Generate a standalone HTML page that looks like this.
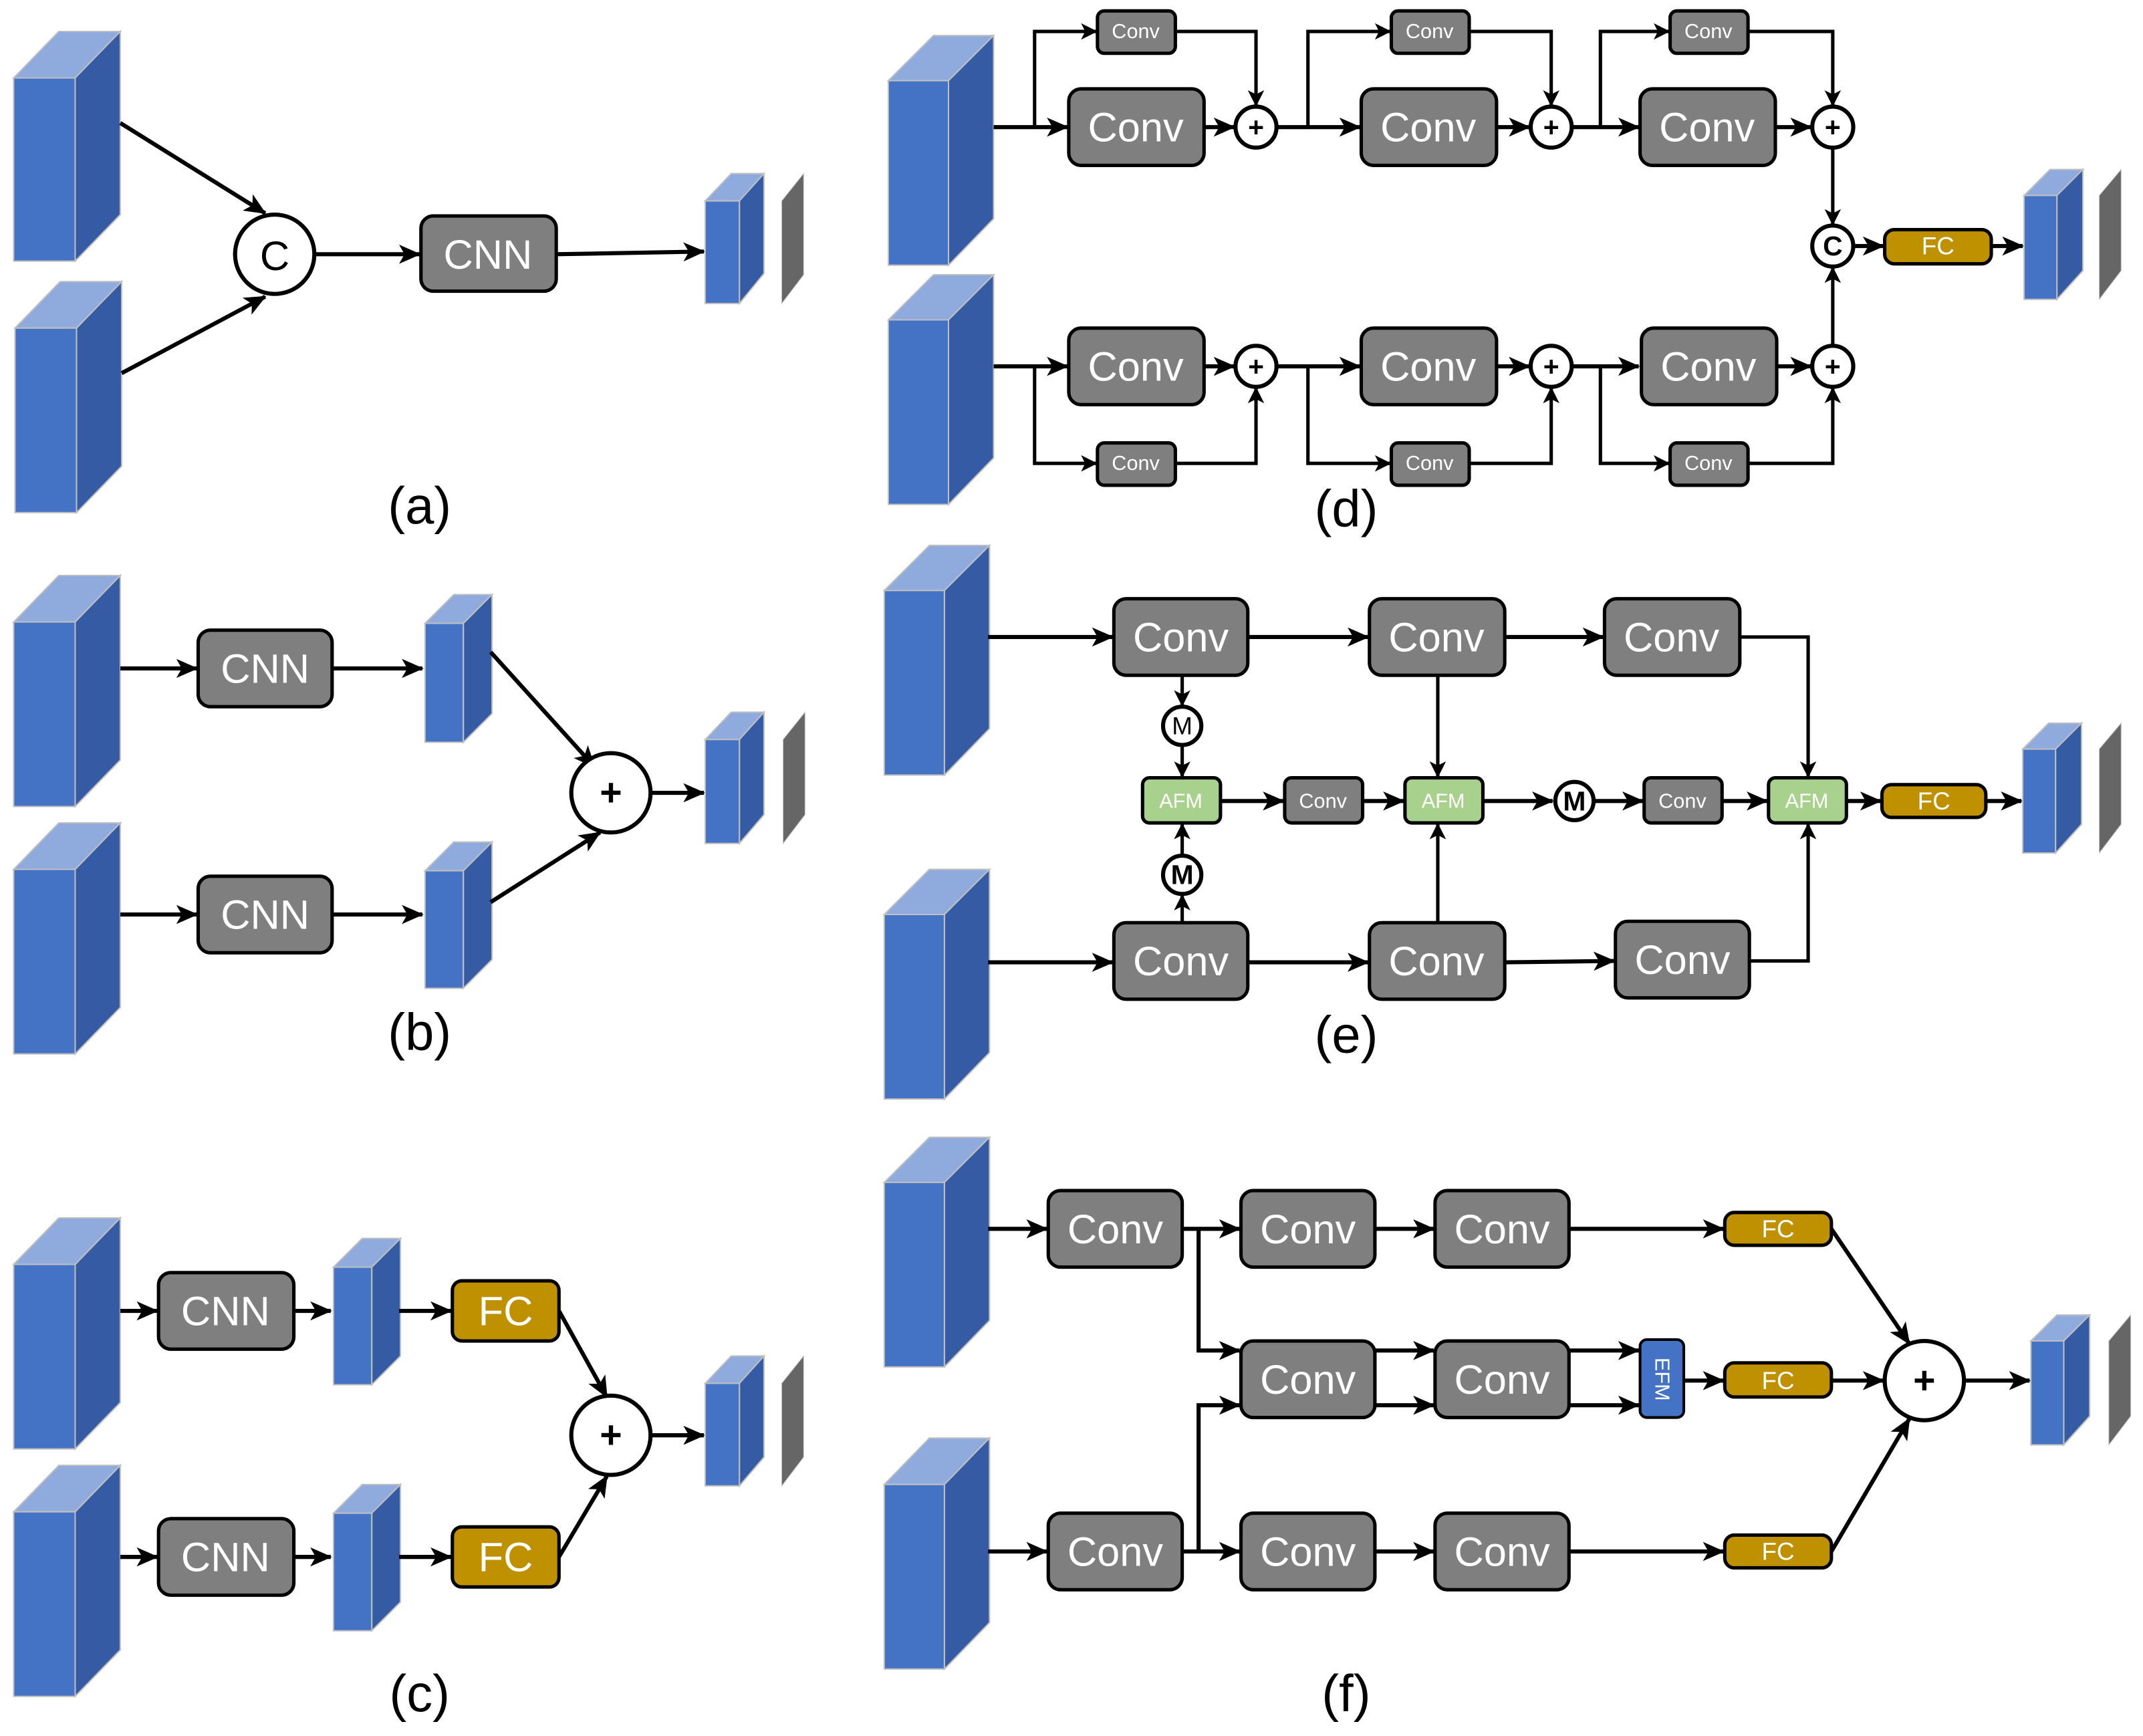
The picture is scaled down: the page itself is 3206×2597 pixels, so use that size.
<!DOCTYPE html>
<html><head><meta charset="utf-8"><style>
html,body{margin:0;padding:0;background:#fff;}
svg{display:block;}
text{font-family:"Liberation Sans",sans-serif;}
</style></head><body>
<svg width="3206" height="2597" viewBox="0 0 1568 1270" preserveAspectRatio="none" xmlns="http://www.w3.org/2000/svg">
<defs>
<marker id="ar" markerUnits="userSpaceOnUse" markerWidth="16" markerHeight="14" refX="15" refY="7" orient="auto">
<path d="M0,0 L16,7 L0,14 L4,7 Z" fill="#000"/></marker>
<marker id="as" markerUnits="userSpaceOnUse" markerWidth="12" markerHeight="12" refX="11" refY="6" orient="auto">
<path d="M0,0 L12,6 L0,12 L3,6 Z" fill="#000"/></marker>
</defs>
<style>
.f{fill:#4472C4;stroke:#bfbfbf;stroke-width:1}
.t{fill:#8FAADC;stroke:#bfbfbf;stroke-width:1}
.s{fill:#345BA3;stroke:#bfbfbf;stroke-width:1}
.sl{fill:#666;stroke:#bfbfbf;stroke-width:0.5}
.b{fill:#7f7f7f;stroke:#000;stroke-width:2.5}
.fc{fill:#BF9000;stroke:#000;stroke-width:2.5}
.afm{fill:#A9D18E;stroke:#000;stroke-width:2.5}
.ci{fill:#fff;stroke:#000;stroke-width:3}
.l{stroke:#000;stroke-width:3;fill:none}
.la{stroke:#000;stroke-width:3;fill:none;marker-end:url(#ar)}
.ls{stroke:#000;stroke-width:2.5;fill:none;marker-end:url(#as)}
.bt{fill:#fff;font-size:30px;text-anchor:middle;dominant-baseline:central}
.st{fill:#fff;font-size:15px;text-anchor:middle;dominant-baseline:central}
.lb{fill:#000;font-size:38px;text-anchor:middle}
.pt{fill:#000;font-size:28px;font-weight:bold;text-anchor:middle;dominant-baseline:central}
.ps{fill:#000;font-size:20px;font-weight:bold;text-anchor:middle;dominant-baseline:central}
</style>

<!-- ===== (a) ===== -->
<g>
<polygon class="t" points="10,57 43,23 88,23 55,57"/><polygon class="s" points="55,57 88,23 88,157 55,191"/><rect class="f" x="10" y="57" width="45" height="134"/>
<polygon class="t" points="11,240 44,206 89,206 56,240"/><polygon class="s" points="56,240 89,206 89,341 56,375"/><rect class="f" x="11" y="240" width="45" height="135"/>
<line class="la" x1="88" y1="90" x2="194" y2="156"/>
<line class="la" x1="89" y1="273" x2="194" y2="217"/>
<circle class="ci" cx="201" cy="186" r="29"/><text class="pt" x="201" y="187" style="font-weight:normal;font-size:30px">C</text>
<line class="la" x1="230" y1="186" x2="307" y2="186"/>
<rect class="b" x="308" y="158" width="99" height="55" rx="9"/><text class="bt" x="357" y="186">CNN</text>
<line class="la" x1="407" y1="186" x2="515" y2="184"/>
<polygon class="t" points="516,147 535,127 559,127 541,147"/><polygon class="s" points="541,147 559,127 559,200 541,222"/><rect class="f" x="516" y="147" width="25" height="75"/>
<polygon class="sl" points="572,147 588,127 588,201 572,222"/>
<text class="lb" x="307" y="383">(a)</text>
</g>

<!-- ===== (b) ===== -->
<g>
<polygon class="t" points="10,455 43,421 88,421 55,455"/><polygon class="s" points="55,455 88,421 88,556 55,590"/><rect class="f" x="10" y="455" width="45" height="135"/>
<polygon class="t" points="10,636 43,602 88,602 55,636"/><polygon class="s" points="55,636 88,602 88,737 55,771"/><rect class="f" x="10" y="636" width="45" height="135"/>
<line class="la" x1="88" y1="489" x2="144" y2="489"/>
<rect class="b" x="145" y="461" width="98" height="56" rx="9"/><text class="bt" x="194" y="489">CNN</text>
<line class="la" x1="243" y1="489" x2="309" y2="489"/>
<polygon class="t" points="311,456 332,435 360,435 339,456"/><polygon class="s" points="339,456 360,435 360,522 339,543"/><rect class="f" x="311" y="456" width="28" height="87"/>
<line class="la" x1="88" y1="669" x2="144" y2="669"/>
<rect class="b" x="145" y="641" width="98" height="56" rx="9"/><text class="bt" x="194" y="669">CNN</text>
<line class="la" x1="243" y1="669" x2="309" y2="669"/>
<polygon class="t" points="311,637 332,616 360,616 339,637"/><polygon class="s" points="339,637 360,616 360,702 339,723"/><rect class="f" x="311" y="637" width="28" height="86"/>
<line class="la" x1="359" y1="477" x2="435" y2="561"/>
<line class="la" x1="359" y1="660" x2="439" y2="609"/>
<circle class="ci" cx="447" cy="580" r="29"/><text class="pt" x="447" y="580">+</text>
<line class="la" x1="476" y1="580" x2="515" y2="580"/>
<polygon class="t" points="516,541 535,521 559,521 541,541"/><polygon class="s" points="541,541 559,521 559,596 541,617"/><rect class="f" x="516" y="541" width="25" height="76"/>
<polygon class="sl" points="573,541 589,521 589,596 573,617"/>
<text class="lb" x="307" y="768">(b)</text>
</g>

<!-- ===== (c) ===== -->
<g>
<polygon class="t" points="10,925 43,891 88,891 55,925"/><polygon class="s" points="55,925 88,891 88,1026 55,1060"/><rect class="f" x="10" y="925" width="45" height="135"/>
<polygon class="t" points="10,1106 43,1072 88,1072 55,1106"/><polygon class="s" points="55,1106 88,1072 88,1207 55,1241"/><rect class="f" x="10" y="1106" width="45" height="135"/>
<line class="la" x1="88" y1="959" x2="115" y2="959"/>
<rect class="b" x="116" y="931" width="99" height="56" rx="9"/><text class="bt" x="165" y="959">CNN</text>
<line class="la" x1="215" y1="959" x2="242" y2="959"/>
<polygon class="t" points="244,927 265,906 293,906 272,927"/><polygon class="s" points="272,927 293,906 293,992 272,1013"/><rect class="f" x="244" y="927" width="28" height="86"/>
<line class="la" x1="292" y1="959" x2="330" y2="959"/>
<rect class="fc" x="331" y="937" width="78" height="44" rx="7"/><text class="bt" x="370" y="959">FC</text>
<line class="la" x1="88" y1="1139" x2="115" y2="1139"/>
<rect class="b" x="116" y="1111" width="99" height="56" rx="9"/><text class="bt" x="165" y="1139">CNN</text>
<line class="la" x1="215" y1="1139" x2="242" y2="1139"/>
<polygon class="t" points="244,1107 265,1086 293,1086 272,1107"/><polygon class="s" points="272,1107 293,1086 293,1172 272,1193"/><rect class="f" x="244" y="1107" width="28" height="86"/>
<line class="la" x1="292" y1="1139" x2="330" y2="1139"/>
<rect class="fc" x="331" y="1117" width="78" height="44" rx="7"/><text class="bt" x="370" y="1139">FC</text>
<line class="la" x1="409" y1="959" x2="444" y2="1022"/>
<line class="la" x1="409" y1="1139" x2="444" y2="1080"/>
<circle class="ci" cx="447" cy="1050" r="29"/><text class="pt" x="447" y="1050">+</text>
<line class="la" x1="476" y1="1050" x2="515" y2="1050"/>
<polygon class="t" points="516,1012 535,992 559,992 541,1012"/><polygon class="s" points="541,1012 559,992 559,1066 541,1087"/><rect class="f" x="516" y="1012" width="25" height="75"/>
<polygon class="sl" points="572,1012 588,992 588,1066 572,1087"/>
<text class="lb" x="307" y="1252">(c)</text>
</g>

<!-- ===== (d) ===== -->
<g>
<polygon class="t" points="650,59 683,26 727,26 694,59"/><polygon class="s" points="694,59 727,26 727,160 694,194"/><rect class="f" x="650" y="59" width="44" height="135"/>
<polygon class="t" points="650,234 683,201 727,201 694,234"/><polygon class="s" points="694,234 727,201 727,335 694,369"/><rect class="f" x="650" y="234" width="44" height="135"/>
<!-- top row -->
<line class="la" x1="727" y1="93" x2="781" y2="93"/>
<rect class="b" x="782" y="65" width="99" height="56" rx="9"/><text class="bt" x="831" y="93">Conv</text>
<line class="la" x1="881" y1="93" x2="903" y2="93"/>
<circle class="ci" cx="919" cy="93" r="15"/><text class="ps" x="919" y="93">+</text>
<line class="la" x1="934" y1="93" x2="995" y2="93"/>
<rect class="b" x="996" y="65" width="99" height="56" rx="9"/><text class="bt" x="1045" y="93">Conv</text>
<line class="la" x1="1095" y1="93" x2="1119" y2="93"/>
<circle class="ci" cx="1135" cy="93" r="15"/><text class="ps" x="1135" y="93">+</text>
<line class="la" x1="1150" y1="93" x2="1199" y2="93"/>
<rect class="b" x="1200" y="65" width="99" height="56" rx="9"/><text class="bt" x="1249" y="93">Conv</text>
<line class="la" x1="1299" y1="93" x2="1325" y2="93"/>
<circle class="ci" cx="1341" cy="93" r="15"/><text class="ps" x="1341" y="93">+</text>
<polyline class="ls" points="757,93 757,23 802,23"/>
<rect class="b" x="803" y="8" width="57" height="31" rx="5"/><text class="st" x="831" y="23">Conv</text>
<polyline class="ls" points="860,23 919,23 919,77"/>
<polyline class="ls" points="957,93 957,23 1017,23"/>
<rect class="b" x="1018" y="8" width="57" height="31" rx="5"/><text class="st" x="1046" y="23">Conv</text>
<polyline class="ls" points="1075,23 1135,23 1135,77"/>
<polyline class="ls" points="1171,93 1171,23 1221,23"/>
<rect class="b" x="1222" y="8" width="57" height="31" rx="5"/><text class="st" x="1250" y="23">Conv</text>
<polyline class="ls" points="1279,23 1341,23 1341,77"/>
<!-- bottom row -->
<line class="la" x1="727" y1="268" x2="781" y2="268"/>
<rect class="b" x="782" y="240" width="99" height="56" rx="9"/><text class="bt" x="831" y="268">Conv</text>
<line class="la" x1="881" y1="268" x2="903" y2="268"/>
<circle class="ci" cx="919" cy="268" r="15"/><text class="ps" x="919" y="268">+</text>
<line class="la" x1="934" y1="268" x2="995" y2="268"/>
<rect class="b" x="996" y="240" width="99" height="56" rx="9"/><text class="bt" x="1045" y="268">Conv</text>
<line class="la" x1="1095" y1="268" x2="1119" y2="268"/>
<circle class="ci" cx="1135" cy="268" r="15"/><text class="ps" x="1135" y="268">+</text>
<line class="la" x1="1150" y1="268" x2="1199" y2="268"/>
<rect class="b" x="1201" y="240" width="99" height="56" rx="9"/><text class="bt" x="1250" y="268">Conv</text>
<line class="la" x1="1300" y1="268" x2="1325" y2="268"/>
<circle class="ci" cx="1341" cy="268" r="15"/><text class="ps" x="1341" y="268">+</text>
<polyline class="ls" points="757,268 757,339 802,339"/>
<rect class="b" x="803" y="324" width="57" height="31" rx="5"/><text class="st" x="831" y="339">Conv</text>
<polyline class="ls" points="860,339 919,339 919,284"/>
<polyline class="ls" points="957,268 957,339 1017,339"/>
<rect class="b" x="1018" y="324" width="57" height="31" rx="5"/><text class="st" x="1046" y="339">Conv</text>
<polyline class="ls" points="1075,339 1135,339 1135,284"/>
<polyline class="ls" points="1171,268 1171,339 1221,339"/>
<rect class="b" x="1222" y="324" width="57" height="31" rx="5"/><text class="st" x="1250" y="339">Conv</text>
<polyline class="ls" points="1279,339 1341,339 1341,284"/>
<line class="ls" x1="1341" y1="108" x2="1341" y2="164"/>
<line class="ls" x1="1341" y1="253" x2="1341" y2="196"/>
<circle class="ci" cx="1341" cy="180" r="15"/><text class="ps" x="1341" y="180">C</text>
<line class="la" x1="1356" y1="180" x2="1378" y2="180"/>
<rect class="fc" x="1379" y="168" width="78" height="25" rx="7"/><text class="st" x="1418" y="180" style="font-size:18px">FC</text>
<line class="la" x1="1457" y1="180" x2="1480" y2="180"/>
<polygon class="t" points="1481,143 1500,124 1524,124 1505,143"/><polygon class="s" points="1505,143 1524,124 1524,198 1505,219"/><rect class="f" x="1481" y="143" width="24" height="76"/>
<polygon class="sl" points="1536,143 1552,124 1552,198 1536,219"/>
<text class="lb" x="985" y="385">(d)</text>
</g>

<!-- ===== (e) ===== -->
<g>
<polygon class="t" points="647,432 680,399 724,399 691,432"/><polygon class="s" points="691,432 724,399 724,533 691,567"/><rect class="f" x="647" y="432" width="44" height="135"/>
<polygon class="t" points="647,669 680,636 724,636 691,669"/><polygon class="s" points="691,669 724,636 724,770 691,804"/><rect class="f" x="647" y="669" width="44" height="135"/>
<line class="la" x1="723" y1="466" x2="814" y2="466"/>
<rect class="b" x="815" y="438" width="98" height="56" rx="9"/><text class="bt" x="864" y="466">Conv</text>
<line class="la" x1="913" y1="466" x2="1001" y2="466"/>
<rect class="b" x="1002" y="438" width="99" height="56" rx="9"/><text class="bt" x="1051" y="466">Conv</text>
<line class="la" x1="1101" y1="466" x2="1173" y2="466"/>
<rect class="b" x="1174" y="438" width="99" height="56" rx="9"/><text class="bt" x="1223" y="466">Conv</text>
<polyline class="ls" points="1273,466 1323,466 1323,568"/>
<line class="ls" x1="865" y1="494" x2="865" y2="516"/>
<circle class="ci" cx="865" cy="531" r="14"/><text class="ps" x="865" y="531" style="font-weight:normal;font-size:18px">M</text>
<line class="ls" x1="865" y1="545" x2="865" y2="568"/>
<line class="ls" x1="1052" y1="494" x2="1052" y2="568"/>
<rect class="afm" x="836" y="569" width="57" height="33" rx="5"/><text class="st" x="864" y="586">AFM</text>
<line class="la" x1="893" y1="586" x2="939" y2="586"/>
<rect class="b" x="940" y="569" width="57" height="33" rx="5"/><text class="st" x="968" y="586">Conv</text>
<line class="la" x1="997" y1="586" x2="1027" y2="586"/>
<rect class="afm" x="1028" y="569" width="57" height="33" rx="5"/><text class="st" x="1056" y="586">AFM</text>
<line class="la" x1="1085" y1="586" x2="1136" y2="586"/>
<circle class="ci" cx="1152" cy="586" r="14"/><text class="ps" x="1152" y="586">M</text>
<line class="la" x1="1166" y1="586" x2="1202" y2="586"/>
<rect class="b" x="1203" y="569" width="57" height="33" rx="5"/><text class="st" x="1231" y="586">Conv</text>
<line class="la" x1="1260" y1="586" x2="1293" y2="586"/>
<rect class="afm" x="1294" y="569" width="57" height="33" rx="5"/><text class="st" x="1322" y="586">AFM</text>
<line class="la" x1="1351" y1="586" x2="1376" y2="586"/>
<rect class="fc" x="1377" y="574" width="76" height="24" rx="7"/><text class="st" x="1415" y="586" style="font-size:18px">FC</text>
<line class="la" x1="1453" y1="586" x2="1479" y2="586"/>
<polygon class="t" points="1480,548 1499,529 1523,529 1504,548"/><polygon class="s" points="1504,548 1523,529 1523,603 1504,624"/><rect class="f" x="1480" y="548" width="24" height="76"/>
<polygon class="sl" points="1536,548 1552,529 1552,603 1536,624"/>
<line class="ls" x1="865" y1="675" x2="865" y2="655"/>
<circle class="ci" cx="865" cy="640" r="14"/><text class="ps" x="865" y="640">M</text>
<line class="ls" x1="865" y1="626" x2="865" y2="603"/>
<line class="ls" x1="1052" y1="675" x2="1052" y2="603"/>
<polyline class="ls" points="1280,703 1323,703 1323,603"/>
<line class="la" x1="723" y1="704" x2="814" y2="704"/>
<rect class="b" x="815" y="675" width="98" height="56" rx="9"/><text class="bt" x="864" y="703">Conv</text>
<line class="la" x1="913" y1="704" x2="1001" y2="704"/>
<rect class="b" x="1002" y="675" width="99" height="56" rx="9"/><text class="bt" x="1051" y="703">Conv</text>
<line class="la" x1="1101" y1="704" x2="1181" y2="703"/>
<rect class="b" x="1182" y="674" width="98" height="56" rx="9"/><text class="bt" x="1231" y="702">Conv</text>
<text class="lb" x="985" y="770">(e)</text>
</g>

<!-- ===== (f) ===== -->
<g>
<polygon class="t" points="647,865 680,832 724,832 691,865"/><polygon class="s" points="691,865 724,832 724,966 691,1000"/><rect class="f" x="647" y="865" width="44" height="135"/>
<polygon class="t" points="647,1086 680,1052 724,1052 691,1086"/><polygon class="s" points="691,1086 724,1052 724,1187 691,1221"/><rect class="f" x="647" y="1086" width="44" height="135"/>
<line class="la" x1="723" y1="899" x2="766" y2="899"/>
<rect class="b" x="767" y="871" width="98" height="56" rx="9"/><text class="bt" x="816" y="899">Conv</text>
<line class="la" x1="865" y1="899" x2="907" y2="899"/>
<rect class="b" x="908" y="871" width="98" height="56" rx="9"/><text class="bt" x="957" y="899">Conv</text>
<line class="la" x1="1006" y1="899" x2="1049" y2="899"/>
<rect class="b" x="1050" y="871" width="98" height="56" rx="9"/><text class="bt" x="1099" y="899">Conv</text>
<line class="la" x1="1148" y1="899" x2="1261" y2="899"/>
<rect class="fc" x="1262" y="887" width="78" height="24" rx="7"/><text class="st" x="1301" y="899" style="font-size:18px">FC</text>
<polyline class="la" points="877,899 877,988 907,988"/>
<polyline class="la" points="877,1135 877,1028 907,1028"/>
<rect class="b" x="908" y="981" width="98" height="56" rx="9"/><text class="bt" x="957" y="1009">Conv</text>
<line class="la" x1="1006" y1="988" x2="1049" y2="988"/>
<line class="la" x1="1006" y1="1028" x2="1049" y2="1028"/>
<rect class="b" x="1050" y="981" width="98" height="56" rx="9"/><text class="bt" x="1099" y="1009">Conv</text>
<line class="la" x1="1148" y1="988" x2="1199" y2="988"/>
<line class="la" x1="1148" y1="1028" x2="1199" y2="1028"/>
<rect x="1200" y="980" width="32" height="57" rx="5" fill="#4472C4" stroke="#000" stroke-width="2"/>
<text class="st" x="1216" y="1009" transform="rotate(90 1216 1009)">EFM</text>
<line class="la" x1="1232" y1="1010" x2="1261" y2="1010"/>
<rect class="fc" x="1262" y="997" width="78" height="25" rx="7"/><text class="st" x="1301" y="1010" style="font-size:18px">FC</text>
<line class="la" x1="723" y1="1135" x2="766" y2="1135"/>
<rect class="b" x="767" y="1107" width="98" height="56" rx="9"/><text class="bt" x="816" y="1135">Conv</text>
<line class="la" x1="865" y1="1135" x2="907" y2="1135"/>
<rect class="b" x="908" y="1107" width="98" height="56" rx="9"/><text class="bt" x="957" y="1135">Conv</text>
<line class="la" x1="1006" y1="1135" x2="1049" y2="1135"/>
<rect class="b" x="1050" y="1107" width="98" height="56" rx="9"/><text class="bt" x="1099" y="1135">Conv</text>
<line class="la" x1="1148" y1="1135" x2="1261" y2="1135"/>
<rect class="fc" x="1262" y="1123" width="78" height="24" rx="7"/><text class="st" x="1301" y="1135" style="font-size:18px">FC</text>
<line class="la" x1="1340" y1="899" x2="1397" y2="983"/>
<line class="la" x1="1340" y1="1010" x2="1378" y2="1010"/>
<line class="la" x1="1340" y1="1135" x2="1397" y2="1038"/>
<circle class="ci" cx="1408" cy="1010" r="29"/><text class="pt" x="1408" y="1010">+</text>
<line class="la" x1="1437" y1="1010" x2="1485" y2="1010"/>
<polygon class="t" points="1486,981 1505,962 1529,962 1510,981"/><polygon class="s" points="1510,981 1529,962 1529,1036 1510,1057"/><rect class="f" x="1486" y="981" width="24" height="76"/>
<polygon class="sl" points="1543,981 1559,962 1559,1036 1543,1057"/>
<text class="lb" x="985" y="1252">(f)</text>
</g>
</svg>
</body></html>
